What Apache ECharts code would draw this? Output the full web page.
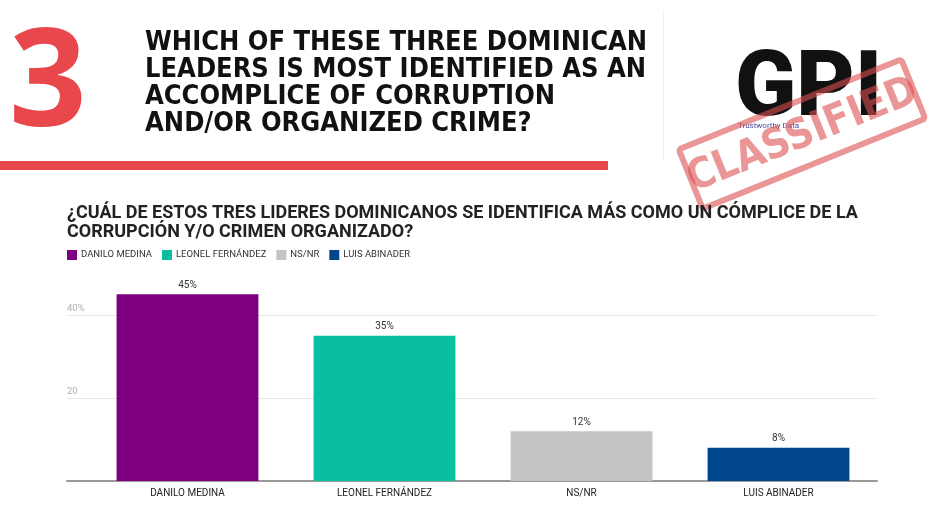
<!DOCTYPE html>
<html>
<head>
<meta charset="utf-8">
<script src="https://cdn.jsdelivr.net/npm/echarts@6/dist/echarts.min.js"></script>
<style>
  html, body { margin: 0; padding: 0; background: #fff; }
  #chart { width: 941px; height: 531px; }
</style>
</head>
<body>
<div id="chart"></div>
<script type="text/javascript">
// survey answers
var categories = ['DANILO MEDINA', 'LEONEL FERNÁNDEZ', 'NS/NR', 'LUIS ABINADER'];
var values = [45, 35, 12, 8];
var yTicks = [0, 20, 40];
var palette = ['#7f007f', '#0abea0', '#c4c4c4', '#00468c'];

var headerLines = ['WHICH OF THESE THREE DOMINICAN', 'LEADERS IS MOST IDENTIFIED AS AN', 'ACCOMPLICE OF CORRUPTION', 'AND/OR ORGANIZED CRIME?'];
var chartTitle = '¿CUÁL DE ESTOS TRES LIDERES DOMINICANOS SE IDENTIFICA MÁS COMO UN CÓMPLICE DE LA\nCORRUPCIÓN Y/O CRIMEN ORGANIZADO?';

var myChart = echarts.init(document.getElementById('chart'));

var series = categories.map(function (name, i) {
	return {
		name: name,
		type: 'bar',
		stack: 'all',
		xAxisIndex: 0,
		yAxisIndex: 0,
		barWidth: '72%',
		itemStyle: { color: palette[i] },
		label: {
			show: true,
			position: 'top',
			distance: 4,
			fontFamily: 'Roboto',
			fontSize: 10,
			color: '#333',
			formatter: '{c}%'
		},
		data: values.map(function (v, j) { return j === i ? v : '-'; })
	};
});

option = {
	backgroundColor: '#fff',
	animation: false,
	title: {
		text: chartTitle,
		left: 67,
		top: 204,
		padding: 0,
		textStyle: {
			fontFamily: 'Roboto',
			fontWeight: 'bold',
			fontSize: 18,
			lineHeight: 19,
			color: '#222'
		}
	},
	legend: {
		data: categories,
		left: 67,
		top: 250,
		padding: 0,
		itemWidth: 10,
		itemHeight: 10,
		itemGap: 10,
		icon: 'rect',
		textStyle: { fontFamily: 'Roboto', fontSize: 9.5, color: '#333', padding: [0, 0, 0, -1] }
	},
	grid: [
		// bars
		{ left: 89, right: 64, top: 273.5, bottom: 50 },
		// frame: gridlines + baseline
		{ left: 67, right: 64, top: 315, bottom: 50 }
	],
	xAxis: [
		{
			type: 'category',
			gridIndex: 0,
			data: categories,
			axisLine: { show: false },
			axisTick: { show: false },
			axisLabel: { fontFamily: 'Roboto', fontSize: 10, color: '#222', margin: 7 }
		},
		{
			type: 'category',
			gridIndex: 1,
			data: categories,
			axisLine: { show: true, lineStyle: { color: '#999', width: 2 } },
			axisTick: { show: false },
			axisLabel: { show: false }
		}
	],
	yAxis: [
		{
			type: 'value',
			gridIndex: 0,
			min: 0,
			max: 50,
			show: false
		},
		{
			type: 'value',
			gridIndex: 1,
			min: yTicks[0],
			max: yTicks[yTicks.length - 1],
			interval: yTicks[1] - yTicks[0],
			axisLine: { show: false },
			axisTick: { show: false },
			splitLine: { lineStyle: { color: '#e6e6e6', width: 1 } },
			axisLabel: {
				inside: true,
				margin: 0,
				verticalAlign: 'bottom',
				padding: [0, 0, 1, 0],
				fontFamily: 'Roboto',
				fontSize: 9.5,
				color: '#b0b0b0',
				formatter: function (v) {
					if (v === 0) return '';
					return v === yTicks[yTicks.length - 1] ? v + '%' : '' + v;
				}
			}
		}
	],
	graphic: [
		{
			type: 'text',
			left: 9,
			top: 19,
			style: { text: '3', fontFamily: 'Open Sans', fontWeight: 'bold', fontSize: 136, fill: '#e8474c' }
		},
		{
			type: 'text',
			left: 145,
			top: 29,
			style: {
				text: headerLines.join('\n'),
				fontFamily: 'DejaVu Sans Condensed',
				fontWeight: 'bold',
				fontSize: 27,
				lineHeight: 27,
				fill: '#111'
			}
		},
		{
			type: 'rect',
			shape: { x: 0, y: 161, width: 608, height: 9 },
			style: { fill: '#e8474c' }
		},
		{
			type: 'rect',
			shape: { x: 663, y: 10, width: 1, height: 150 },
			style: { fill: '#f0f0f0' }
		},
		{
			type: 'text',
			left: 735,
			top: 47,
			style: { text: 'GPI', fontFamily: 'Roboto', fontWeight: 900, fontSize: 90, fill: '#111' }
		},
		{
			type: 'text',
			left: 738,
			top: 122,
			style: { text: 'Trustworthy Data', fontFamily: 'Roboto', fontSize: 8, fill: '#4b4a9c' }
		},
		{
			type: 'group',
			x: 802,
			y: 134,
			rotation: 22 * Math.PI / 180,
			children: [
				{
					type: 'rect',
					shape: { x: -120, y: -32, width: 240, height: 64, r: 3 },
					style: { fill: 'none', stroke: 'rgba(220,80,80,0.6)', lineWidth: 6 }
				},
				{
					type: 'text',
					x: 0,
					y: 2,
					style: {
						text: 'CLASSIFIED',
						align: 'center',
						verticalAlign: 'middle',
						fontFamily: 'DejaVu Sans Condensed',
						fontWeight: 'bold',
						fontSize: 42,
						fill: 'rgba(220,80,80,0.6)'
					}
				}
			]
		}
	],
	series: series
};
myChart.setOption(option);
</script>
</body>
</html>
